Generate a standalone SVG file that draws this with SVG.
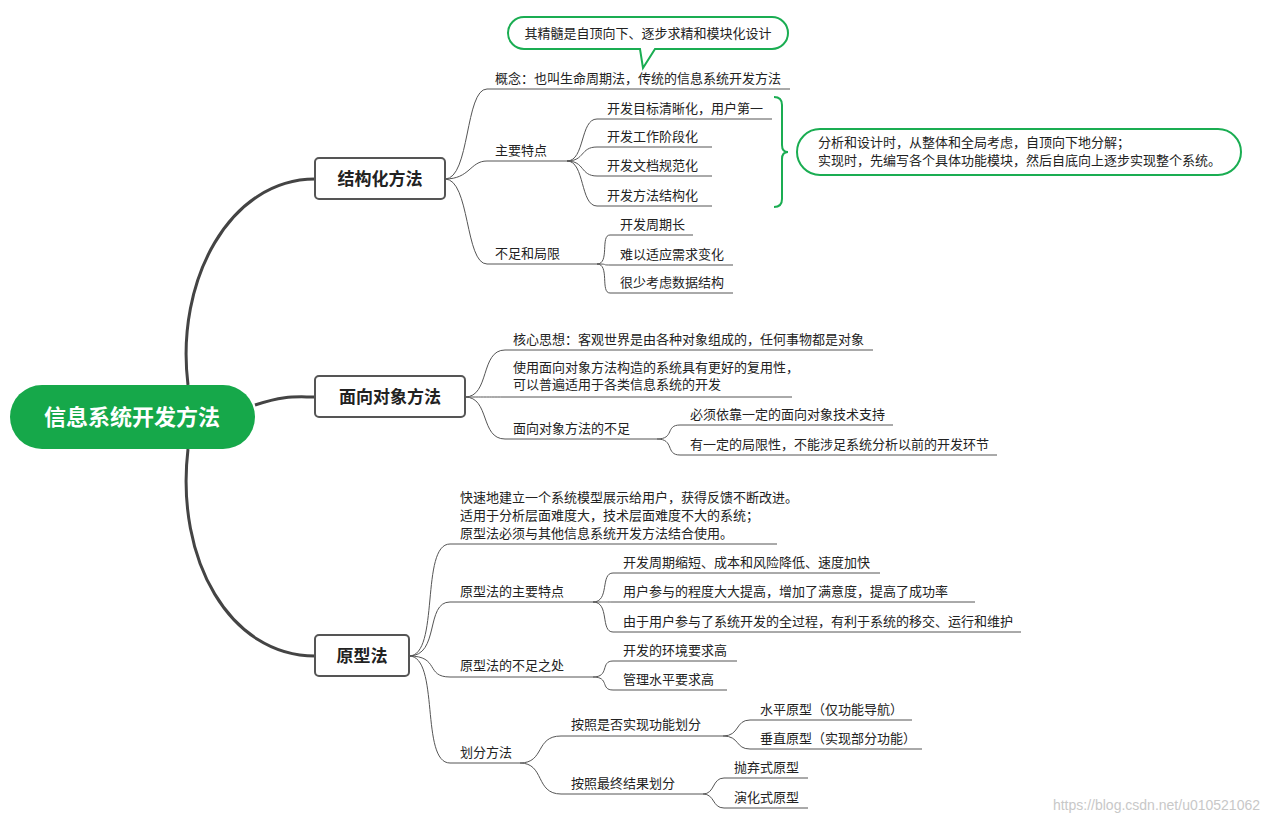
<svg xmlns="http://www.w3.org/2000/svg" width="1268" height="824" viewBox="0 0 1268 824">
<style>
text{font-family:"Noto Sans CJK SC","Liberation Sans",sans-serif;fill:#222}
.t{font-size:13px}
.b{font-size:17px;font-weight:bold;text-anchor:middle}
.box{fill:#fff;stroke:#555;stroke-width:2}
.c path{fill:none;stroke:#555;stroke-width:1}
.c .m{stroke:#444;stroke-width:3}
.g{fill:#fff;stroke:#1aad52;stroke-width:2}
</style>
<rect width="1268" height="824" fill="#fff"/>
<g class="c">
<path class="m" d="M188 385 C175 280 230 179 315 179"/>
<path class="m" d="M255 405 C285 395 295 397 315 397"/>
<path class="m" d="M188 449 C175 560 230 656 315 656"/>
<path d="M445 179 C470 179 465 89 487 89 H790"/>
<path d="M445 179 C470 179 470 161 487 161 H567"/>
<path d="M445 179 C470 179 465 264 487 264 H597"/>
<path d="M567 161 C585 161 580 119 597 119 H772"/>
<path d="M567 161 C585 161 580 147 597 147 H712"/>
<path d="M567 161 C585 161 580 176 597 176 H712"/>
<path d="M567 161 C585 161 580 206 597 206 H712"/>
<path d="M597 264 C610 264 600 235 610 235 H693"/>
<path d="M597 264 C610 264 600 265 610 265 H733"/>
<path d="M597 264 C610 264 600 293 610 293 H733"/>
<path d="M465 397 C490 397 480 350 505 350 H873"/>
<path d="M465 397 C490 397 480 397 505 397 H792"/>
<path d="M465 397 C490 397 480 439 505 439 H657"/>
<path d="M657 439 C675 439 665 425 680 425 H893"/>
<path d="M657 439 C675 439 665 455 680 455 H997"/>
<path d="M409 656 C440 656 420 544 450 544 H777"/>
<path d="M409 656 C440 656 425 602 450 602 H593"/>
<path d="M409 656 C440 656 425 677 450 677 H593"/>
<path d="M409 656 C440 656 420 763 450 763 H520"/>
<path d="M593 602 C610 602 600 573 613 573 H880"/>
<path d="M593 602 C610 602 600 602 613 602 H975"/>
<path d="M593 602 C610 602 600 632 613 632 H1021"/>
<path d="M593 677 C610 677 600 661 613 661 H737"/>
<path d="M593 677 C610 677 600 690 613 690 H727"/>
<path d="M520 763 C545 763 535 736 561 736 H723"/>
<path d="M520 763 C545 763 535 794 561 794 H703"/>
<path d="M723 736 C740 736 735 720 750 720 H912"/>
<path d="M723 736 C740 736 735 749 750 749 H922"/>
<path d="M703 794 C715 794 712 778 724 778 H808"/>
<path d="M703 794 C715 794 712 808 724 808 H808"/>
</g>
<g id="root"><rect x="10" y="385" width="245" height="64" rx="32" fill="#16a84a"/><text x="132" y="425" style="font-size:22px;font-weight:bold;fill:#fff;text-anchor:middle">信息系统开发方法</text></g>
<g id="n1"><rect class="box" x="315" y="158" width="130" height="41" rx="4"/><text class="b" x="380" y="185">结构化方法</text></g>
<g id="n2"><rect class="box" x="315" y="376" width="150" height="41" rx="4"/><text class="b" x="390" y="403">面向对象方法</text></g>
<g id="n3"><rect class="box" x="315" y="635" width="94" height="41" rx="4"/><text class="b" x="362" y="662">原型法</text></g>
<g id="callout1"><path class="g" d="M524 17 H772 A16 16 0 0 1 772 49 H655 L643 68 L640 49 H524 A16 16 0 0 1 524 17 Z"/><text class="t" x="648" y="38" text-anchor="middle">其精髓是自顶向下、逐步求精和模块化设计</text></g>
<g id="brace"><path d="M774 97 Q782 97 782 105 V145 Q782 152 788 152 Q782 152 782 159 V199 Q782 207 774 207" fill="none" stroke="#1aad52" stroke-width="2"/></g>
<g id="callout2"><rect class="g" x="797" y="129" width="444" height="46" rx="23"/><text class="t" x="818" y="147">分析和设计时，从整体和全局考虑，自顶向下地分解；</text><text class="t" x="818" y="165">实现时，先编写各个具体功能模块，然后自底向上逐步实现整个系统。</text></g>
<g id="labels" class="t">
<text class="t" x="495" y="83">概念：也叫生命周期法，传统的信息系统开发方法</text>
<text class="t" x="495" y="155">主要特点</text>
<text class="t" x="495" y="258">不足和局限</text>
<text class="t" x="607" y="113">开发目标清晰化，用户第一</text>
<text class="t" x="607" y="141">开发工作阶段化</text>
<text class="t" x="607" y="170">开发文档规范化</text>
<text class="t" x="607" y="200">开发方法结构化</text>
<text class="t" x="620" y="229">开发周期长</text>
<text class="t" x="620" y="259">难以适应需求变化</text>
<text class="t" x="620" y="287">很少考虑数据结构</text>
<text class="t" x="513" y="344">核心思想：客观世界是由各种对象组成的，任何事物都是对象</text>
<text class="t" x="513" y="372">使用面向对象方法构造的系统具有更好的复用性，</text>
<text class="t" x="513" y="389">可以普遍适用于各类信息系统的开发</text>
<text class="t" x="513" y="433">面向对象方法的不足</text>
<text class="t" x="690" y="419">必须依靠一定的面向对象技术支持</text>
<text class="t" x="690" y="449">有一定的局限性，不能涉足系统分析以前的开发环节</text>
<text class="t" x="460" y="502">快速地建立一个系统模型展示给用户，获得反馈不断改进。</text>
<text class="t" x="460" y="520">适用于分析层面难度大，技术层面难度不大的系统；</text>
<text class="t" x="460" y="538">原型法必须与其他信息系统开发方法结合使用。</text>
<text class="t" x="460" y="596">原型法的主要特点</text>
<text class="t" x="623" y="567">开发周期缩短、成本和风险降低、速度加快</text>
<text class="t" x="623" y="596">用户参与的程度大大提高，增加了满意度，提高了成功率</text>
<text class="t" x="623" y="626">由于用户参与了系统开发的全过程，有利于系统的移交、运行和维护</text>
<text class="t" x="460" y="670">原型法的不足之处</text>
<text class="t" x="623" y="655">开发的环境要求高</text>
<text class="t" x="623" y="684">管理水平要求高</text>
<text class="t" x="460" y="757">划分方法</text>
<text class="t" x="571" y="729">按照是否实现功能划分</text>
<text class="t" x="571" y="788">按照最终结果划分</text>
<text class="t" x="760" y="714">水平原型（仅功能导航）</text>
<text class="t" x="760" y="743">垂直原型（实现部分功能）</text>
<text class="t" x="734" y="772">抛弃式原型</text>
<text class="t" x="734" y="802">演化式原型</text>
</g>
<text x="1260" y="810" text-anchor="end" style="font-size:14px;fill:#c8c8c8;font-family:'Liberation Sans',sans-serif">https://blog.csdn.net/u010521062</text>
</svg>
